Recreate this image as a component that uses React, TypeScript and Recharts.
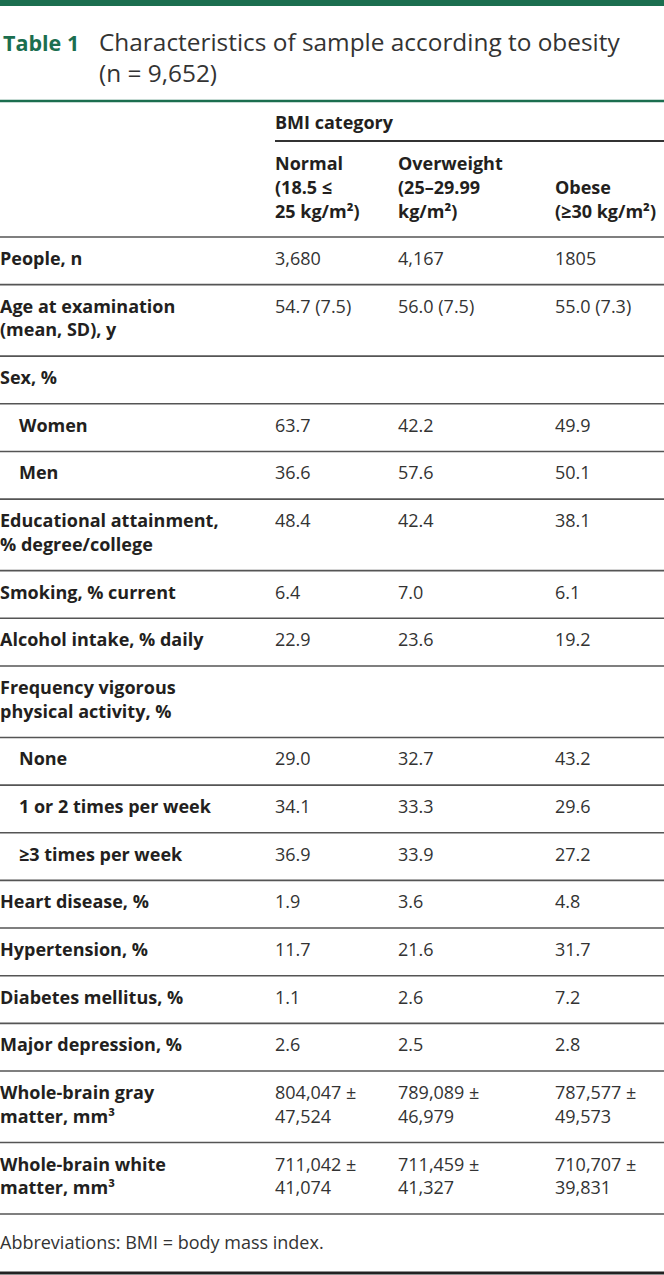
import { ComposedChart, Scatter, XAxis, YAxis, ReferenceLine, ReferenceArea } from 'recharts';

// Table 1 rows: label lines, whether the row is a sub-item, values per BMI group
const rowLabels: string[][] = [
  ['People, n'],
  ['Age at examination', '(mean, SD), y'],
  ['Sex, %'],
  ['Women'],
  ['Men'],
  ['Educational attainment,', '% degree/college'],
  ['Smoking, % current'],
  ['Alcohol intake, % daily'],
  ['Frequency vigorous', 'physical activity, %'],
  ['None'],
  ['1 or 2 times per week'],
  ['≥3 times per week'],
  ['Heart disease, %'],
  ['Hypertension, %'],
  ['Diabetes mellitus, %'],
  ['Major depression, %'],
  ['Whole-brain gray', 'matter, mm³'],
  ['Whole-brain white', 'matter, mm³'],
];
const subRows = [false, false, false, true, true, false, false, false, false, true, true, true, false, false, false, false, false, false];

const normalValues = ['3,680', '54.7 (7.5)', '', '63.7', '36.6', '48.4', '6.4', '22.9', '', '29.0', '34.1', '36.9', '1.9', '11.7', '1.1', '2.6', '804,047 ±\n47,524', '711,042 ±\n41,074'];
const overweightValues = ['4,167', '56.0 (7.5)', '', '42.2', '57.6', '42.4', '7.0', '23.6', '', '32.7', '33.3', '33.9', '3.6', '21.6', '2.6', '2.5', '789,089 ±\n46,979', '711,459 ±\n41,327'];
const obeseValues = ['1805', '55.0 (7.3)', '', '49.9', '50.1', '38.1', '6.1', '19.2', '', '43.2', '29.6', '27.2', '4.8', '31.7', '7.2', '2.8', '787,577 ±\n49,573', '710,707 ±\n39,831'];

const groupHeaders: string[][] = [
  ['Normal', '(18.5 ≤', '25 kg/m²)'],
  ['Overweight', '(25–29.99', 'kg/m²)'],
  ['Obese', '(≥30 kg/m²)'],
];

const tableNumber = 'Table 1';
const titleLines = ['Characteristics of sample according to obesity', '(n = 9,652)'];
const spannerLabel = 'BMI category';
const footnote = 'Abbreviations: BMI = body mass index.';

// layout
const W = 664;
const H = 1275;
const LINE = 23.83;
const BODY_TOP = 237;
const COL_X = [275, 398, 555];
const GREEN = '#1b6e4f';
const FONT = '"Open Sans", "Noto Sans", sans-serif';

type Cell = { x: number; y: number; lines: string[]; bold?: boolean; size?: number; color?: string; lead?: number };

const TextCell = (props: any) => {
  const { cx, cy, payload } = props;
  const p = payload as Cell;
  return (
    <text
      x={cx}
      y={cy}
      fontFamily={FONT}
      fontSize={p.size ?? 18}
      fontWeight={p.bold ? 700 : 400}
      fill={p.color ?? '#333'}
    >
      {p.lines.map((l, k) => (
        <tspan key={k} x={cx} dy={k === 0 ? 0 : p.lead ?? LINE}>
          {l}
        </tspan>
      ))}
    </text>
  );
};

export default function App() {
  const columns = [normalValues, overweightValues, obeseValues];

  let top = BODY_TOP;
  const rows = rowLabels.map((label, i) => {
    const vals = columns.map((c) => (c[i] ? c[i].split('\n') : []));
    const n = Math.max(label.length, ...vals.map((v) => v.length));
    const r = { top, label, vals, sub: subRows[i] };
    top += (n + 1) * LINE;
    return { ...r, bottom: top };
  });
  const tableBottom = top;

  const labelCells: Cell[] = rows.map((r) => ({
    x: r.sub ? 19 : 0,
    y: r.top + 28,
    lines: r.label,
    bold: true,
    color: '#231f20',
  }));
  const valueCells: Cell[][] = COL_X.map((x, c) =>
    rows.filter((r) => r.vals[c].length > 0).map((r) => ({ x, y: r.top + 28, lines: r.vals[c] }))
  );

  const headerCells: Cell[] = [
    { x: 3, y: 51, lines: [tableNumber], bold: true, size: 21.5, color: GREEN },
    { x: 99, y: 51, lines: titleLines, size: 24.4, color: '#333', lead: 31 },
    { x: COL_X[0], y: 129, lines: [spannerLabel], bold: true, color: '#231f20' },
    ...groupHeaders.map((g, c) => ({
      x: COL_X[c],
      y: 218 - (g.length - 1) * LINE,
      lines: g,
      bold: true,
      color: '#231f20',
    })),
    { x: 0, y: tableBottom + 35, lines: [footnote], color: '#333' },
  ];

  return (
    <div style={{ position: 'absolute', left: 0, top: 0, width: W, height: H, background: '#fff' }}>
      <ComposedChart width={W} height={H} margin={{ top: 0, right: 0, bottom: 0, left: 0 }}>
        <XAxis type="number" dataKey="x" domain={[0, W]} hide allowDataOverflow />
        <YAxis type="number" dataKey="y" domain={[0, H]} reversed hide allowDataOverflow />
        <ReferenceArea y1={0} y2={6} fill={GREEN} fillOpacity={1} stroke="none" />
        <ReferenceLine y={101} stroke={GREEN} strokeWidth={2.5} />
        <ReferenceLine segment={[{ x: COL_X[0], y: 141 }, { x: W, y: 141 }]} stroke="#333" strokeWidth={1.8} />
        <ReferenceLine y={BODY_TOP} stroke="#555" strokeWidth={1.6} />
        {rows.map((r, i) => (
          <ReferenceLine key={i} y={r.bottom} stroke="#555" strokeWidth={1.6} />
        ))}
        <ReferenceLine y={1273} stroke="#222" strokeWidth={3} />
        <Scatter data={headerCells} shape={TextCell} isAnimationActive={false} />
        <Scatter data={labelCells} shape={TextCell} isAnimationActive={false} />
        {valueCells.map((cells, c) => (
          <Scatter key={c} data={cells} shape={TextCell} isAnimationActive={false} />
        ))}
      </ComposedChart>
    </div>
  );
}
